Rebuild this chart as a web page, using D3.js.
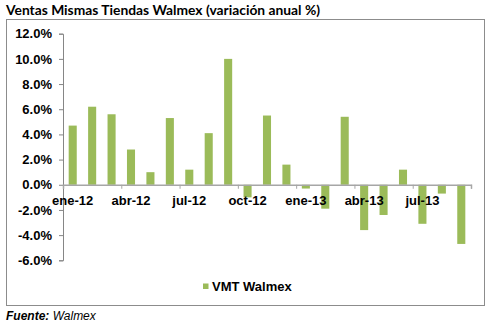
<!DOCTYPE html>
<html><head><meta charset="utf-8">
<script src="https://cdn.jsdelivr.net/npm/d3@7"></script>
<style>body{margin:0;background:#fff}svg{display:block}</style>
</head><body>
<script>
const months = ["ene-12","feb-12","mar-12","abr-12","may-12","jun-12","jul-12","ago-12","sep-12","oct-12","nov-12","dic-12",
                "ene-13","feb-13","mar-13","abr-13","may-13","jun-13","jul-13","ago-13","sep-13"];
const vmt = [4.7,6.2,5.6,2.8,1.0,5.3,1.2,4.1,10.0,-1.0,5.5,1.6,-0.3,-1.9,5.4,-3.6,-2.4,1.2,-3.1,-0.7,-4.7];
const shownLabels = ["ene-12","abr-12","jul-12","oct-12","ene-13","abr-13","jul-13"];
const yTicks = [-6,-4,-2,0,2,4,6,8,10,12];
const seriesName = "VMT Walmex";

const W = 491, H = 325;
const svg = d3.select("body").append("svg").attr("width", W).attr("height", H);
svg.append("rect").attr("width", W).attr("height", H).attr("fill", "#fff");

svg.append("text").attr("x", 6).attr("y", 15)
  .attr("font-family", "Lato, 'Open Sans', sans-serif").attr("font-weight", "bold")
  .attr("font-size", 14).attr("fill", "#000")
  .attr("textLength", 314).attr("lengthAdjust", "spacingAndGlyphs")
  .text("Ventas Mismas Tiendas Walmex (variación anual %)");

svg.append("rect").attr("x", 6.5).attr("y", 19.5).attr("width", 478).attr("height", 286)
  .attr("fill", "#fff").attr("stroke", "#8c8c8c").attr("stroke-width", 1);

const x0 = 63, x1 = 471;
const x = d3.scaleBand().domain(months).range([x0, x1]).paddingInner(0.585).paddingOuter(0.2925);
const xb = d3.scaleLinear().domain([0, months.length]).range([x0, x1]);
const y = d3.scaleLinear().domain([-6, 12]).range([260.3, 33.7]);

const font = "Arial, 'Liberation Sans', sans-serif";

// y axis
const ya = svg.append("g").attr("transform", `translate(${x0},0)`)
  .call(d3.axisLeft(y).tickValues(yTicks).tickSize(4).tickPadding(7).tickFormat(d => d.toFixed(1) + "%"));
ya.select(".domain").attr("stroke", "#868686");
ya.selectAll(".tick line").attr("stroke", "#868686");
ya.selectAll("text").attr("font-family", font).attr("font-weight", "bold").attr("font-size", 13).attr("fill", "#000");

// bars
svg.append("g").selectAll("rect").data(vmt).join("rect")
  .attr("x", (d, i) => x(months[i]))
  .attr("width", x.bandwidth())
  .attr("y", d => y(Math.max(0, d)))
  .attr("height", d => Math.abs(y(d) - y(0)))
  .attr("fill", "#9BBB59");

// x axis tick marks at boundaries
const xa = svg.append("g").attr("transform", `translate(0,${y(0)})`)
  .call(d3.axisBottom(xb).tickValues(d3.range(0, months.length + 1, 3)).tickSize(4).tickFormat(""));
xa.select(".domain").attr("stroke", "#a6a6a6").attr("stroke-width", 1.5);
xa.selectAll(".tick line").attr("stroke", "#a6a6a6");

// x labels
const xl = svg.append("g").attr("transform", `translate(0,${y(0)})`)
  .call(d3.axisBottom(x).tickValues(shownLabels).tickSize(0).tickPadding(11));
xl.select(".domain").remove();
xl.selectAll("text").attr("font-family", font).attr("font-weight", "bold").attr("font-size", 13).attr("fill", "#000");

// legend
const lg = svg.append("g");
lg.append("rect").attr("x", 203).attr("y", 283.5).attr("width", 5.5).attr("height", 5.5).attr("fill", "#9BBB59");
lg.append("text").attr("x", 212).attr("y", 291).attr("font-family", font).attr("font-weight", "bold")
  .attr("font-size", 13).attr("fill", "#000").text(seriesName);

// source
const src = svg.append("text").attr("x", 6).attr("y", 320).attr("font-family", font).attr("font-size", 12).attr("font-style", "italic").attr("fill", "#000");
src.append("tspan").attr("font-weight", "bold").text("Fuente:");
src.append("tspan").text(" Walmex");
</script>
</body></html>
